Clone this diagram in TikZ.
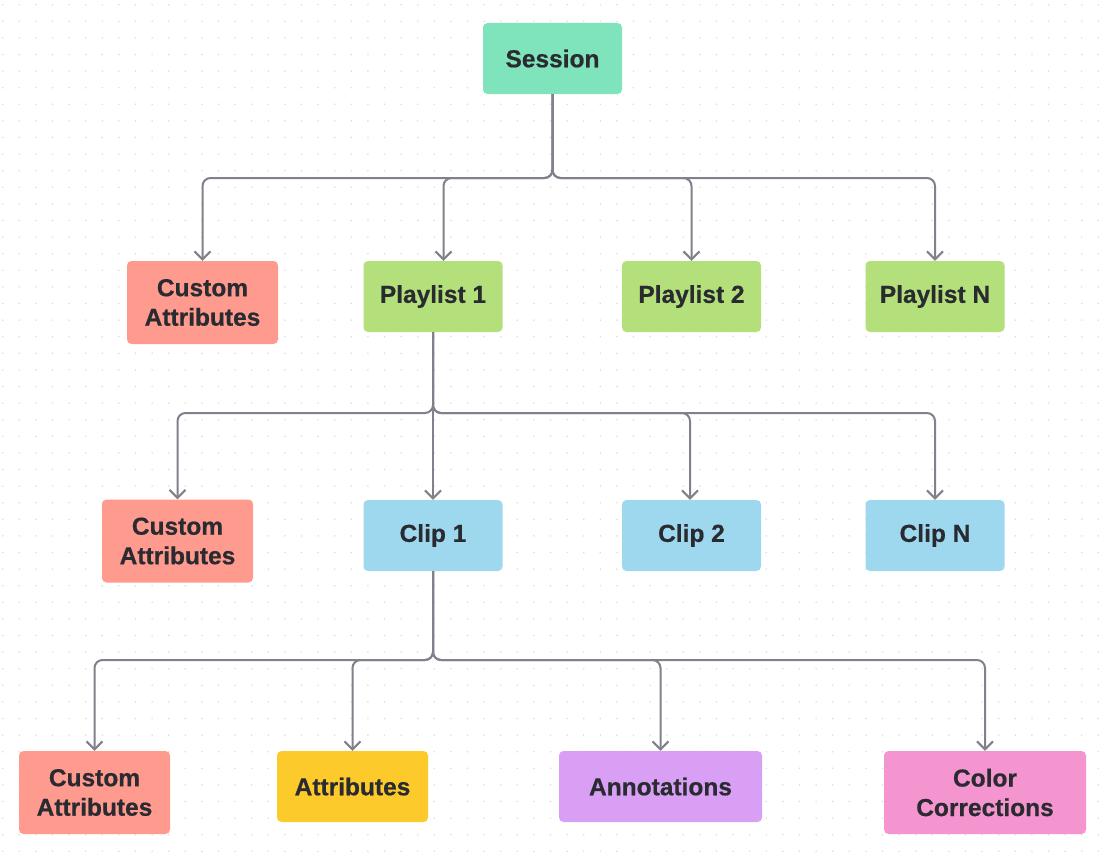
\documentclass[tikz,border=0pt]{standalone}
\usepackage{fontspec}
\setmainfont{Liberation Sans}[BoldFeatures={FakeBold=0.6}]
\usetikzlibrary{arrows.meta}
\definecolor{dotc}{HTML}{DCDCDE}
\definecolor{linec}{HTML}{80818A}
\definecolor{txtc}{HTML}{2A2B30}
\definecolor{cmint}{HTML}{7FE3BB}
\definecolor{csalmon}{HTML}{FF9A8F}
\definecolor{cgreen}{HTML}{B3E07A}
\definecolor{cblue}{HTML}{9DD8EE}
\definecolor{cyellow}{HTML}{FDCA2B}
\definecolor{cpurple}{HTML}{D89FF5}
\definecolor{cpink}{HTML}{F595D0}
\tikzset{
  box/.style={rounded corners=4.5pt, inner sep=0pt, text=txtc, align=center,
    font=\fontsize{24.5}{29.5}\selectfont\bfseries, minimum width=139pt, minimum height=71pt},
  tall/.style={minimum width=151pt, minimum height=83pt},
  conn/.style={draw=linec, line width=2pt, rounded corners=8pt,
    -{Straight Barb[length=8pt,width=16pt,line width=2pt]}}
}
\begin{document}
\begin{tikzpicture}[x=1pt,y=-1pt]
\useasboundingbox (0,0) rectangle (1103,867);
\fill[white] (0,0) rectangle (1103,867);
\foreach \i in {0,...,66}{
  \foreach \j in {0,...,52}{
    \fill[dotc] ({2.7+16.6*\i},{4.7+16.6*\j}) circle (0.85);
  }
}
% row 0
\node[box, fill=cmint] (s) at (552.5,58.5) {Session};
% row 1
\node[box, tall, fill=csalmon] (ca1) at (202.5,302.5) {Custom\\Attributes};
\node[box, fill=cgreen] (p1) at (433,296.5) {Playlist 1};
\node[box, fill=cgreen] (p2) at (691.5,296.5) {Playlist 2};
\node[box, fill=cgreen] (pn) at (935,296.5) {Playlist N};
% row 2
\node[box, tall, fill=csalmon] (ca2) at (177.5,541) {Custom\\Attributes};
\node[box, fill=cblue] (c1) at (433,535.5) {Clip 1};
\node[box, fill=cblue] (c2) at (691.5,535.5) {Clip 2};
\node[box, fill=cblue] (cn) at (935,535.5) {Clip N};
% row 3
\node[box, tall, fill=csalmon] (ca3) at (94.5,792.5) {Custom\\Attributes};
\node[box, minimum width=151pt, fill=cyellow] (at) at (352.5,786.5) {Attributes};
\node[box, minimum width=203pt, fill=cpurple] (an) at (660.5,786.5) {Annotations};
\node[box, minimum width=202pt, minimum height=83pt, fill=cpink] (cc) at (985,792.5) {Color\\Corrections};
% junctions
\coordinate (j1) at (552.5,178);
\coordinate (j2) at (433,413);
\coordinate (j3) at (433,660);
% connectors level 1
\draw[conn] (s.south) -- (j1) -| (ca1.north);
\draw[conn] (s.south) -- (j1) -| ([xshift=10.5pt]p1.north);
\draw[conn] (s.south) -- (j1) -| (p2.north);
\draw[conn] (s.south) -- (j1) -| (pn.north);
% level 2
\draw[conn] (p1.south) -- (j2) -| (ca2.north);
\draw[conn] (p1.south) -- (c1.north);
\draw[conn] (p1.south) -- (j2) -| ([xshift=-1.5pt]c2.north);
\draw[conn] (p1.south) -- (j2) -| (cn.north);
% level 3
\draw[conn] (c1.south) -- (j3) -| (ca3.north);
\draw[conn] (c1.south) -- (j3) -| (at.north);
\draw[conn] (c1.south) -- (j3) -| (an.north);
\draw[conn] (c1.south) -- (j3) -| (cc.north);
\end{tikzpicture}
\end{document}
